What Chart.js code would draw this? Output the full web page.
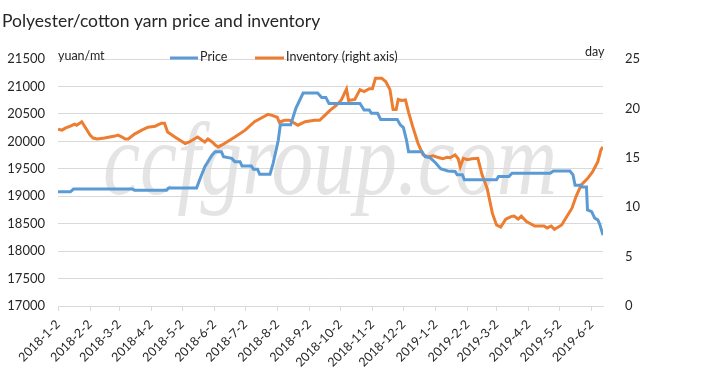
<!DOCTYPE html>
<html>
<head>
<meta charset="utf-8">
<script src="https://cdn.jsdelivr.net/npm/chart.js@4.4.1/dist/chart.umd.min.js"></script>
<style>
html,body{margin:0;padding:0;background:#fff;}
#wrap{width:718px;height:392px;position:relative;}
</style>
</head>
<body>
<div id="wrap"><canvas id="c" width="718" height="392"></canvas></div>
<script>
const titleText = 'Polyester/cotton yarn price and inventory';
const leftUnit = 'yuan/mt';
const rightUnit = 'day';
const seriesNames = ['Price', 'Inventory (right axis)'];
const watermarkText = 'ccfgroup.com';

const tickDates = ['2018-01-02','2018-02-02','2018-03-02','2018-04-02','2018-05-02','2018-06-02','2018-07-02','2018-08-02','2018-09-02','2018-10-02','2018-11-02','2018-12-02','2019-01-02','2019-02-02','2019-03-02','2019-04-02','2019-05-02','2019-06-02'];
const tickLabels = ['2018-1-2','2018-2-2','2018-3-2','2018-4-2','2018-5-2','2018-6-2','2018-7-2','2018-8-2','2018-9-2','2018-10-2','2018-11-2','2018-12-2','2019-1-2','2019-2-2','2019-3-2','2019-4-2','2019-5-2','2019-6-2'];
const axisStart = '2018-01-02';
const axisEnd = '2019-06-13';

const priceDates = ['2018-01-02','2018-01-14','2018-01-17','2018-03-15','2018-03-17','2018-04-17','2018-04-19','2018-05-16','2018-05-19','2018-05-24','2018-05-31','2018-06-03','2018-06-09','2018-06-11','2018-06-19','2018-06-22','2018-06-27','2018-06-29','2018-07-08','2018-07-10','2018-07-14','2018-07-16','2018-07-26','2018-07-29','2018-08-03','2018-08-05','2018-08-15','2018-08-20','2018-08-27','2018-09-10','2018-09-14','2018-09-18','2018-09-21','2018-10-21','2018-10-25','2018-10-30','2018-11-01','2018-11-07','2018-11-10','2018-11-26','2018-11-29','2018-12-02','2018-12-05','2018-12-07','2018-12-20','2018-12-23','2018-12-28','2019-01-02','2019-01-07','2019-01-14','2019-01-21','2019-01-23','2019-01-28','2019-01-30','2019-03-02','2019-03-04','2019-03-14','2019-03-17','2019-04-23','2019-04-26','2019-05-12','2019-05-15','2019-05-17','2019-05-22','2019-05-24','2019-05-28','2019-05-29','2019-06-02','2019-06-05','2019-06-08','2019-06-10','2019-06-13'];
const priceValues = [19080,19080,19130,19130,19110,19110,19150,19150,19300,19540,19750,19810,19810,19720,19690,19630,19630,19550,19550,19490,19490,19400,19400,19600,20020,20300,20300,20600,20880,20880,20800,20800,20690,20690,20570,20570,20510,20510,20400,20400,20300,20250,20020,19810,19810,19720,19700,19610,19500,19460,19450,19390,19390,19300,19300,19360,19360,19420,19420,19460,19460,19390,19200,19200,19170,19170,18750,18720,18600,18570,18480,18290];

const invDates = ['2018-01-02','2018-01-06','2018-01-09','2018-01-14','2018-01-18','2018-01-20','2018-01-25','2018-01-28','2018-02-02','2018-02-05','2018-02-09','2018-02-16','2018-02-26','2018-03-01','2018-03-05','2018-03-08','2018-03-11','2018-03-17','2018-03-24','2018-03-30','2018-04-06','2018-04-12','2018-04-15','2018-04-18','2018-04-25','2018-05-05','2018-05-09','2018-05-17','2018-05-21','2018-05-24','2018-05-27','2018-05-31','2018-06-03','2018-06-06','2018-06-12','2018-06-22','2018-07-02','2018-07-11','2018-07-18','2018-07-24','2018-07-28','2018-08-02','2018-08-04','2018-08-09','2018-08-14','2018-08-22','2018-08-29','2018-09-07','2018-09-12','2018-09-17','2018-09-22','2018-09-28','2018-10-03','2018-10-08','2018-10-10','2018-10-16','2018-10-21','2018-10-25','2018-10-30','2018-11-02','2018-11-05','2018-11-11','2018-11-15','2018-11-19','2018-11-22','2018-11-25','2018-11-27','2018-11-30','2018-12-04','2018-12-07','2018-12-11','2018-12-16','2018-12-21','2018-12-26','2018-12-31','2019-01-04','2019-01-09','2019-01-13','2019-01-16','2019-01-21','2019-01-24','2019-01-26','2019-01-29','2019-02-02','2019-02-06','2019-02-12','2019-02-16','2019-02-21','2019-02-26','2019-03-02','2019-03-06','2019-03-11','2019-03-16','2019-03-19','2019-03-23','2019-03-26','2019-03-31','2019-04-08','2019-04-17','2019-04-20','2019-04-24','2019-04-27','2019-05-04','2019-05-09','2019-05-14','2019-05-18','2019-05-23','2019-05-29','2019-06-03','2019-06-08','2019-06-11','2019-06-13'];
const invValues = [17.9,17.8,18.0,18.2,18.4,18.3,18.65,18.15,17.3,17.0,16.9,17.0,17.2,17.3,17.1,16.9,16.9,17.4,17.8,18.1,18.2,18.5,18.5,17.6,17.1,16.45,16.6,17.1,16.8,16.6,16.9,16.6,16.3,16.1,16.45,17.1,17.8,18.65,19.05,19.4,19.3,19.1,18.6,18.8,18.8,18.3,18.65,18.8,18.8,19.3,19.8,20.3,20.85,21.95,20.8,20.9,21.9,21.7,22.0,22.0,23.05,23.05,22.7,21.9,19.9,19.9,20.9,20.8,20.85,19.6,18.15,16.5,15.3,15.1,15.2,15.05,14.9,15.05,15.0,15.3,14.9,14.1,14.95,14.8,14.9,14.95,13.3,11.9,9.4,8.2,8.0,8.8,9.05,9.1,8.8,9.1,8.55,8.1,8.1,7.9,8.1,7.75,8.2,9.05,9.9,11.1,12.25,12.9,13.6,14.6,15.8,16.1];

function dayIndex(s){
  const p = s.split('-').map(Number);
  const b = axisStart.split('-').map(Number);
  return Math.round((Date.UTC(p[0],p[1]-1,p[2]) - Date.UTC(b[0],b[1]-1,b[2]))/86400000);
}

const FONT = 'Lato, "Open Sans", sans-serif';
const TXT = '#262626';
const BLUE = '#5b9bd5';
const ORANGE = '#ed7d31';
const GRID = '#d9d9d9';

const overlay = {
  id: 'overlay',
  beforeDraw(chart){
    const ctx = chart.ctx;
    ctx.save();
    ctx.fillStyle = '#fff';
    ctx.fillRect(0,0,chart.width,chart.height);
    ctx.font = 'italic 104px "Liberation Serif", "DejaVu Serif", serif';
    const w = ctx.measureText(watermarkText).width;
    const sx = 454 / w;
    ctx.translate(103, 194);
    ctx.scale(sx, 1);
    ctx.fillStyle = 'rgba(190,190,190,0.42)';
    ctx.textBaseline = 'alphabetic';
    ctx.fillText(watermarkText, 0, 0);
    ctx.restore();
  },
  afterDraw(chart){
    const ctx = chart.ctx;
    ctx.save();
    ctx.fillStyle = TXT;
    ctx.textBaseline = 'middle';
    ctx.textAlign = 'left';
    ctx.font = '17.5px ' + FONT;
    ctx.fillText(titleText, 2, 21);
    ctx.font = '12.5px ' + FONT;
    ctx.fillText(leftUnit, 58, 56);
    ctx.fillText(rightUnit, 585, 52);
    ctx.lineWidth = 3;
    ctx.strokeStyle = BLUE;
    ctx.beginPath(); ctx.moveTo(170, 58); ctx.lineTo(198, 58); ctx.stroke();
    ctx.fillText(seriesNames[0], 200, 57);
    ctx.strokeStyle = ORANGE;
    ctx.beginPath(); ctx.moveTo(255, 58); ctx.lineTo(284, 58); ctx.stroke();
    ctx.fillText(seriesNames[1], 286, 57);
    ctx.restore();
  }
};

new Chart(document.getElementById('c'), {
  type: 'line',
  data: {
    datasets: [
      {
        label: seriesNames[0],
        data: priceDates.map((d,i)=>({x: dayIndex(d), y: priceValues[i]})),
        borderColor: BLUE,
        borderWidth: 3,
        pointRadius: 0,
        tension: 0,
        yAxisID: 'y'
      },
      {
        label: seriesNames[1],
        data: invDates.map((d,i)=>({x: dayIndex(d), y: invValues[i]})),
        borderColor: ORANGE,
        borderWidth: 3,
        pointRadius: 0,
        tension: 0,
        yAxisID: 'y1'
      }
    ]
  },
  options: {
    responsive: false,
    animation: false,
    devicePixelRatio: 1,
    layout: { padding: { top: 59, left: 0, right: 0, bottom: 0 } },
    plugins: { legend: { display: false }, tooltip: { enabled: false }, title: { display: false } },
    scales: {
      x: {
        type: 'linear',
        min: 0,
        max: dayIndex(axisEnd),
        afterBuildTicks(scale){ scale.ticks = tickDates.map(d => ({ value: dayIndex(d) })); },
        afterFit(scale){ scale.height = 86; },
        grid: { display: true, drawOnChartArea: false, drawTicks: true, tickLength: 5, color: GRID },
        border: { display: true, color: GRID, width: 1 },
        ticks: {
          autoSkip: false,
          maxRotation: 45,
          minRotation: 45,
          padding: 6,
          color: TXT,
          font: { family: FONT, size: 12.5 },
          callback(value, index){ return tickLabels[index]; }
        }
      },
      y: {
        position: 'left',
        min: 17000,
        max: 21500,
        afterFit(scale){ scale.width = 58; },
        grid: { color: GRID, drawTicks: false, lineWidth: 1 },
        border: { display: false },
        ticks: { stepSize: 500, padding: 13, color: TXT, font: { family: FONT, size: 13 }, callback(v){ return String(v); } }
      },
      y1: {
        position: 'right',
        min: 0,
        max: 25,
        afterFit(scale){ scale.width = 115; },
        grid: { display: false, drawOnChartArea: false },
        border: { display: false },
        ticks: { stepSize: 5, padding: 14, color: TXT, font: { family: FONT, size: 13 }, callback(v){ return String(v); } }
      }
    }
  },
  plugins: [overlay]
});
</script>
</body>
</html>
